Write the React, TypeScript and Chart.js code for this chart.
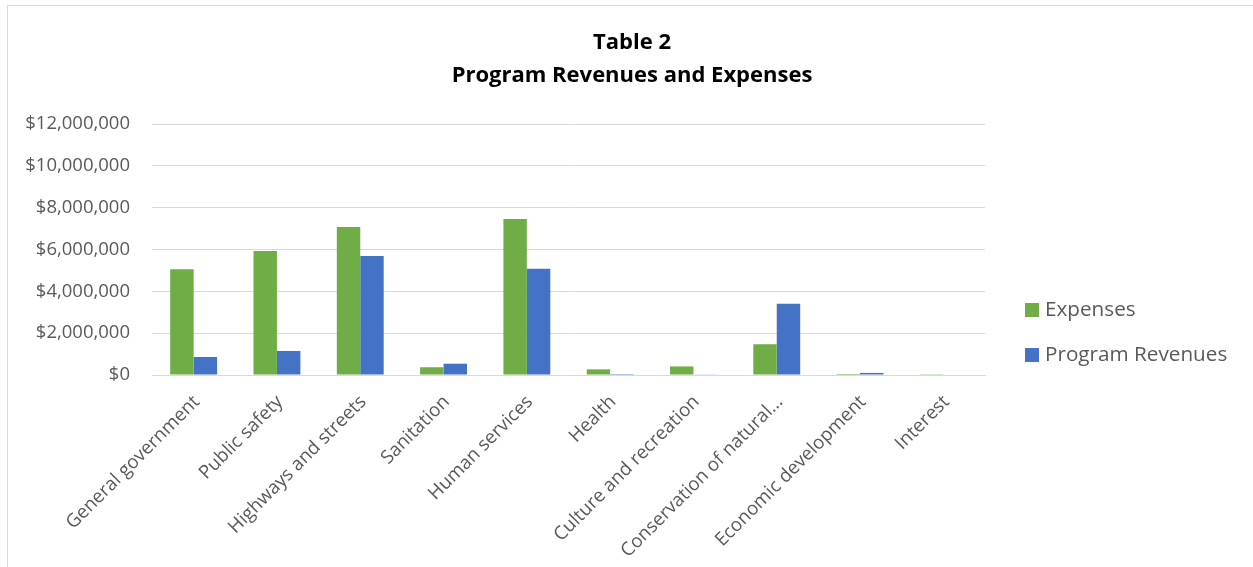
import { useEffect, useRef } from "react";
import { Chart, registerables } from "chart.js";

Chart.register(...registerables);

const categories = [
  "General government",
  "Public safety",
  "Highways and streets",
  "Sanitation",
  "Human services",
  "Health",
  "Culture and recreation",
  "Conservation of natural…",
  "Economic development",
  "Interest",
];

const expenses = [5050000, 5930000, 7080000, 370000, 7460000, 270000, 410000, 1470000, 50000, 10000];
const programRevenues = [860000, 1150000, 5690000, 540000, 5080000, 5000, 30000, 3410000, 100000, 0];

const seriesNames = ["Expenses", "Program Revenues"];
const seriesColors = ["#70AD47", "#4472C4"];
const titleLines = ["Table 2", "Program Revenues and Expenses"];
const yTickValues = [0, 2000000, 4000000, 6000000, 8000000, 10000000, 12000000];

const FONT = "'Open Sans', sans-serif";
const TEXT_GRAY = "#595959";
const GRID_GRAY = "#d9d9d9";

const CANVAS_W = 1248;
const CANVAS_H = 561;

export default function App() {
  const ref = useRef<HTMLCanvasElement | null>(null);

  useEffect(() => {
    if (!ref.current) return;

    const sideLegend = {
      id: "sideLegend",
      afterDraw(chart: any) {
        const { ctx, chartArea } = chart;
        ctx.save();
        ctx.font = `20.7px ${FONT}`;
        ctx.textBaseline = "middle";
        ctx.textAlign = "left";
        chart.data.datasets.forEach((ds: any, i: number) => {
          const x = chartArea.right + 40;
          const y = 304 + i * 45;
          ctx.fillStyle = ds.backgroundColor;
          ctx.fillRect(x, y - 7, 14, 14);
          ctx.fillStyle = TEXT_GRAY;
          ctx.fillText(ds.label, x + 20, y);
        });
        ctx.restore();
      },
    };

    const chart = new Chart(ref.current, {
      type: "bar",
      data: {
        labels: categories,
        datasets: [
          {
            label: seriesNames[0],
            data: expenses,
            backgroundColor: seriesColors[0],
            borderWidth: 0,
            barPercentage: 1,
            categoryPercentage: 0.563,
            yAxisID: "y",
          },
          {
            label: seriesNames[1],
            data: programRevenues,
            backgroundColor: seriesColors[1],
            borderWidth: 0,
            barPercentage: 1,
            categoryPercentage: 0.563,
            yAxisID: "y",
          },
        ],
      },
      options: {
        responsive: false,
        animation: false,
        devicePixelRatio: 1,
        layout: { padding: 0 },
        plugins: {
          legend: { display: false },
          tooltip: { enabled: false },
          title: {
            display: true,
            text: titleLines,
            color: "#000000",
            font: { family: FONT, size: 22, weight: "bold", lineHeight: 33 / 22 },
            padding: { top: 20, bottom: 32 },
          },
        },
        scales: {
          x: {
            grid: { display: false, drawTicks: false },
            border: { display: true, color: GRID_GRAY, width: 1 },
            ticks: {
              color: TEXT_GRAY,
              font: { family: FONT, size: 18.7 },
              minRotation: 45,
              maxRotation: 45,
              autoSkip: false,
              padding: 16,
              labelOffset: 3,
            },
            afterFit: (scale: any) => {
              scale.height = 192;
            },
          },
          y: {
            min: 0,
            max: 12000000,
            grid: { color: GRID_GRAY, lineWidth: 1, drawTicks: false },
            border: { display: false },
            ticks: {
              color: TEXT_GRAY,
              font: { family: FONT, size: 18.5 },
              padding: 22,
              callback: (v: any) => "$" + Number(v).toLocaleString("en-US"),
            },
            afterBuildTicks: (scale: any) => {
              scale.ticks = yTickValues.map((v) => ({ value: v }));
            },
            afterFit: (scale: any) => {
              scale.width = 144;
            },
          },
          legendSpace: {
            type: "linear",
            position: "right",
            min: 0,
            max: 1,
            grid: { display: false, drawTicks: false },
            border: { display: false },
            ticks: { display: false },
            afterFit: (scale: any) => {
              scale.width = 271;
            },
          },
        },
      },
      plugins: [sideLegend],
    });

    return () => chart.destroy();
  }, []);

  return (
    <div style={{ position: "fixed", inset: 0, overflow: "hidden", background: "#ffffff" }}>
      <div
        style={{
          position: "absolute",
          left: 7,
          top: 5,
          width: 1260,
          height: 600,
          border: "1px solid #d9d9d9",
          boxSizing: "border-box",
          background: "#ffffff",
        }}
      >
        <canvas
          ref={ref}
          width={CANVAS_W}
          height={CANVAS_H}
          style={{ display: "block", width: CANVAS_W, height: CANVAS_H }}
        />
      </div>
    </div>
  );
}
